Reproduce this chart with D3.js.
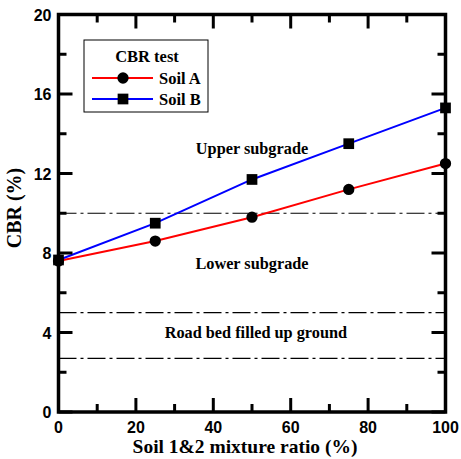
<!DOCTYPE html>
<html>
<head>
<meta charset="utf-8">
<script src="https://cdn.jsdelivr.net/npm/d3@7"></script>
<style>
body { margin: 0; background: #fff; }
</style>
</head>
<body>
<svg id="chart"></svg>
<script>
// data
var ratio = [0, 25, 50, 75, 100]
var soilA = [7.6, 8.6, 9.8, 11.2, 12.5]
var soilB = [7.65, 9.5, 11.7, 13.5, 15.3]
var limits = [10, 5, 2.7]
var zones = [
    {label: "Upper subgrade", x: 50, y: 13},
    {label: "Lower subgrade", x: 50, y: 7.2},
    {label: "Road bed filled up ground", x: 51, y: 3.7}
]
var xTicks = [0, 20, 40, 60, 80, 100]
var yTicks = [0, 4, 8, 12, 16, 20]

var width = 461, height = 459
var margin = {top: 14.5, right: 15.5, bottom: 47, left: 58.5}
var _width = width - margin.left - margin.right,
    _height = height - margin.top - margin.bottom

var svg = d3.select("#chart")
    .attr("width", width)
    .attr("height", height)
var g = svg.append("g")
    .attr("transform", "translate(" + margin.left + "," + margin.top + ")")

var x = d3.scaleLinear().domain([0, 100]).range([0, _width])
var y = d3.scaleLinear().domain([0, 20]).range([_height, 0])

var serif = "'Liberation Serif', 'Times New Roman', serif"
var sans = "'Liberation Sans', Arial, sans-serif"

// reference lines
g.selectAll(".limit")
    .data(limits)
    .enter()
    .append("line")
    .attr("x1", 0)
    .attr("x2", _width)
    .attr("y1", function(d){ return y(d) })
    .attr("y2", function(d){ return y(d) })
    .attr("stroke", "#000")
    .attr("stroke-width", 1.2)
    .attr("stroke-dasharray", "18,4,3,4")

g.selectAll(".zone")
    .data(zones)
    .enter()
    .append("text")
    .attr("x", function(d){ return x(d.x) })
    .attr("y", function(d){ return y(d.y) })
    .attr("text-anchor", "middle")
    .attr("font-family", serif)
    .attr("font-weight", "bold")
    .attr("font-size", "16.3px")
    .text(function(d){ return d.label })

// series
function drawSeries(vals, color, shape) {
    var pts = ratio.map(function(r, i){ return [r, vals[i]] })
    g.append("path")
        .datum(pts)
        .attr("fill", "none")
        .attr("stroke", color)
        .attr("stroke-width", 2)
        .attr("d", d3.line()
            .x(function(d){ return x(d[0]) })
            .y(function(d){ return y(d[1]) }))
    g.selectAll(".m" + shape)
        .data(pts)
        .enter()
        .append("path")
        .attr("transform", function(d){ return "translate(" + x(d[0]) + "," + y(d[1]) + ")" })
        .attr("d", d3.symbol().type(shape == "sq" ? d3.symbolSquare : d3.symbolCircle).size(shape == "sq" ? 115 : 100))
        .attr("fill", "#000")
}
drawSeries(soilA, "#ff0000", "ci")
drawSeries(soilB, "#0000ff", "sq")

// ticks inward on all four sides
var xMinor = d3.range(0, 101, 10), yMinor = d3.range(0, 21, 2)
function tickLines(vals, isX, side) {
    g.selectAll(null)
        .data(vals)
        .enter()
        .append("line")
        .each(function(d){
            var len = (isX ? d % 20 == 0 : d % 4 == 0) ? 14 : 8
            var el = d3.select(this)
            if (isX) {
                var y0 = side == "b" ? _height : 0
                el.attr("x1", x(d)).attr("x2", x(d))
                  .attr("y1", y0).attr("y2", side == "b" ? y0 - len : y0 + len)
            } else {
                var x0 = side == "l" ? 0 : _width
                el.attr("y1", y(d)).attr("y2", y(d))
                  .attr("x1", x0).attr("x2", side == "l" ? x0 + len : x0 - len)
            }
        })
        .attr("stroke", "#000")
        .attr("stroke-width", 3)
}
tickLines(xMinor, true, "b")
tickLines(xMinor, true, "t")
tickLines(yMinor, false, "l")
tickLines(yMinor, false, "r")

g.append("rect")
    .attr("width", _width)
    .attr("height", _height)
    .attr("fill", "none")
    .attr("stroke", "#000")
    .attr("stroke-width", 3.5)

g.selectAll(".xt")
    .data(xTicks)
    .enter()
    .append("text")
    .attr("x", function(d){ return x(d) })
    .attr("y", _height + 21)
    .attr("text-anchor", "middle")
    .attr("font-family", sans)
    .attr("font-weight", "bold")
    .attr("font-size", "16px")
    .text(function(d){ return d })

g.selectAll(".yt")
    .data(yTicks)
    .enter()
    .append("text")
    .attr("x", -7)
    .attr("y", function(d){ return y(d) + 6 })
    .attr("text-anchor", "end")
    .attr("font-family", sans)
    .attr("font-weight", "bold")
    .attr("font-size", "16px")
    .text(function(d){ return d })

// axis titles
svg.append("text")
    .attr("x", 245)
    .attr("y", 453)
    .attr("text-anchor", "middle")
    .attr("font-family", serif)
    .attr("font-weight", "bold")
    .attr("font-size", "19.5px")
    .text("Soil 1&2 mixture ratio (%)")

svg.append("text")
    .attr("transform", "translate(21,208) rotate(-90)")
    .attr("text-anchor", "middle")
    .attr("font-family", serif)
    .attr("font-weight", "bold")
    .attr("font-size", "20px")
    .text("CBR (%)")

// legend
var lg = svg.append("g").attr("transform", "translate(84,40)")
lg.append("rect")
    .attr("width", 124)
    .attr("height", 72)
    .attr("fill", "#fff")
    .attr("stroke", "#000")
    .attr("stroke-width", 1)
lg.append("text")
    .attr("x", 63)
    .attr("y", 22)
    .attr("text-anchor", "middle")
    .attr("font-family", serif)
    .attr("font-weight", "bold")
    .attr("font-size", "16.5px")
    .text("CBR test")
var items = [
    {name: "Soil A", color: "#ff0000", shape: d3.symbolCircle, size: 100},
    {name: "Soil B", color: "#0000ff", shape: d3.symbolSquare, size: 115}
]
items.forEach(function(it, i){
    var yy = 38 + i * 21
    lg.append("line")
        .attr("x1", 8).attr("x2", 69)
        .attr("y1", yy).attr("y2", yy)
        .attr("stroke", it.color)
        .attr("stroke-width", 2)
    lg.append("path")
        .attr("transform", "translate(39," + yy + ")")
        .attr("d", d3.symbol().type(it.shape).size(it.size))
        .attr("fill", "#000")
    lg.append("text")
        .attr("x", 75)
        .attr("y", yy + 5.5)
        .attr("font-family", serif)
        .attr("font-weight", "bold")
        .attr("font-size", "16.5px")
        .text(it.name)
})
</script>
</body>
</html>
